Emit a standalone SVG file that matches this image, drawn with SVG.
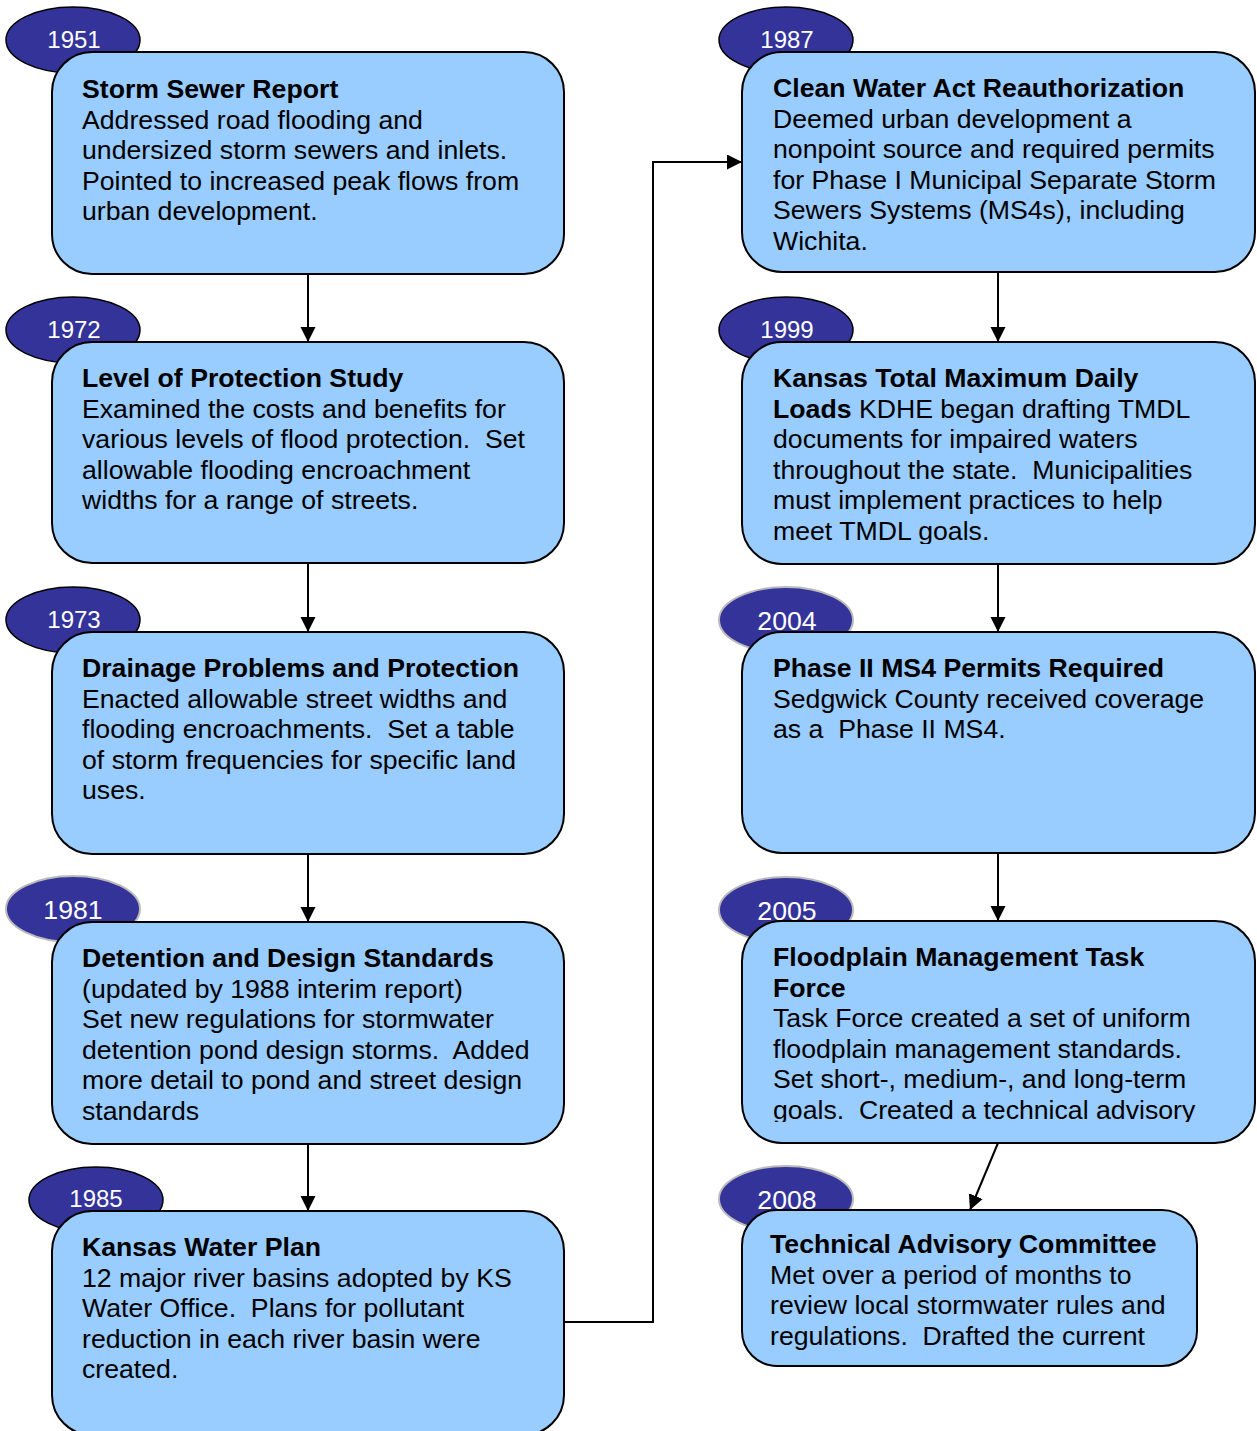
<svg xmlns="http://www.w3.org/2000/svg" width="1257" height="1431" viewBox="0 0 1257 1431">
<style>
.box{fill:#99CCFF;stroke:#000;stroke-width:2}
.yr{fill:#333399;stroke:#000;stroke-width:1.5}
.yr2{fill:#333399;stroke:#BBBBBB;stroke-width:2}
.yt{font-family:"Liberation Sans",Arial,sans-serif;font-size:24px;fill:#fff;text-anchor:middle}
.yt2{font-family:"Liberation Sans",Arial,sans-serif;font-size:26.67px;fill:#fff;text-anchor:middle}
.t{font-family:"Liberation Sans",Arial,sans-serif;font-size:26.67px;fill:#000;white-space:pre}
.b{font-weight:bold}
.c{fill:none;stroke:#000;stroke-width:2}
</style>
<defs>
<marker id="ah" markerUnits="userSpaceOnUse" markerWidth="16" markerHeight="16" refX="15" refY="7.5" orient="auto">
<path d="M0,0 L15,7.5 L0,15 z" fill="#000"/>
</marker>
<clipPath id="clipR2"><rect x="742" y="342" width="513" height="202"/></clipPath>
<clipPath id="clipR4"><rect x="742" y="921" width="513" height="201"/></clipPath>
<clipPath id="clipR5"><rect x="742" y="1210" width="455" height="140"/></clipPath>
</defs>

<g id="connectors">
<line class="c" x1="308" y1="274" x2="308" y2="342" marker-end="url(#ah)"/>
<line class="c" x1="308" y1="563" x2="308" y2="632" marker-end="url(#ah)"/>
<line class="c" x1="308" y1="854" x2="308" y2="922" marker-end="url(#ah)"/>
<line class="c" x1="308" y1="1144" x2="308" y2="1211" marker-end="url(#ah)"/>
<polyline class="c" points="564,1322 653,1322 653,162 742,162" marker-end="url(#ah)"/>
<line class="c" x1="998" y1="272" x2="998" y2="342" marker-end="url(#ah)"/>
<line class="c" x1="998" y1="564" x2="998" y2="632" marker-end="url(#ah)"/>
<line class="c" x1="998" y1="853" x2="998" y2="921" marker-end="url(#ah)"/>
<line class="c" x1="998" y1="1143" x2="970" y2="1210" marker-end="url(#ah)"/>
</g>

<g id="n1951">
<ellipse class="yr" cx="73" cy="40" rx="67" ry="33"/>
<text class="yt" x="74" y="48">1951</text>
<rect class="box" x="52" y="52" width="512" height="222" rx="40" ry="40"/>
<text class="t"><tspan class="b" x="82" y="98">Storm Sewer Report</tspan><tspan x="82" y="128.6">Addressed road flooding and</tspan><tspan x="82" y="159.2">undersized storm sewers and inlets.</tspan><tspan x="82" y="189.8">Pointed to increased peak flows from</tspan><tspan x="82" y="220.4">urban development.</tspan></text>
</g>

<g id="n1972">
<ellipse class="yr" cx="73" cy="330" rx="67" ry="33"/>
<text class="yt" x="74" y="338">1972</text>
<rect class="box" x="52" y="342" width="512" height="221" rx="40" ry="40"/>
<text class="t"><tspan class="b" x="82" y="387">Level of Protection Study</tspan><tspan x="82" y="417.6">Examined the costs and benefits for</tspan><tspan x="82" y="448.2">various levels of flood protection.  Set</tspan><tspan x="82" y="478.8">allowable flooding encroachment</tspan><tspan x="82" y="509.4">widths for a range of streets.</tspan></text>
</g>

<g id="n1973">
<ellipse class="yr" cx="73" cy="620" rx="67" ry="33"/>
<text class="yt" x="74" y="628">1973</text>
<rect class="box" x="52" y="632" width="512" height="222" rx="40" ry="40"/>
<text class="t"><tspan class="b" x="82" y="677">Drainage Problems and Protection</tspan><tspan x="82" y="707.6">Enacted allowable street widths and</tspan><tspan x="82" y="738.2">flooding encroachments.  Set a table</tspan><tspan x="82" y="768.8">of storm frequencies for specific land</tspan><tspan x="82" y="799.4">uses.</tspan></text>
</g>

<g id="n1981">
<ellipse class="yr2" cx="73" cy="909" rx="67" ry="33"/>
<text class="yt2" x="73" y="919">1981</text>
<rect class="box" x="52" y="922" width="512" height="222" rx="40" ry="40"/>
<text class="t"><tspan class="b" x="82" y="967">Detention and Design Standards</tspan><tspan x="82" y="997.6">(updated by 1988 interim report)</tspan><tspan x="82" y="1028.2">Set new regulations for stormwater</tspan><tspan x="82" y="1058.8">detention pond design storms.  Added</tspan><tspan x="82" y="1089.4">more detail to pond and street design</tspan><tspan x="82" y="1120">standards</tspan></text>
</g>

<g id="n1985">
<ellipse class="yr" cx="96" cy="1200" rx="67" ry="33"/>
<text class="yt" x="96" y="1207">1985</text>
<rect class="box" x="52" y="1211" width="512" height="224" rx="40" ry="40"/>
<text class="t"><tspan class="b" x="82" y="1256">Kansas Water Plan</tspan><tspan x="82" y="1286.6">12 major river basins adopted by KS</tspan><tspan x="82" y="1317.2">Water Office.  Plans for pollutant</tspan><tspan x="82" y="1347.8">reduction in each river basin were</tspan><tspan x="82" y="1378.4">created.</tspan></text>
</g>

<g id="n1987">
<ellipse class="yr" cx="786" cy="40" rx="67" ry="33"/>
<text class="yt" x="787" y="48">1987</text>
<rect class="box" x="742" y="52" width="513" height="220" rx="40" ry="40"/>
<text class="t"><tspan class="b" x="773" y="97">Clean Water Act Reauthorization</tspan><tspan x="773" y="127.6">Deemed urban development a</tspan><tspan x="773" y="158.2">nonpoint source and required permits</tspan><tspan x="773" y="188.8">for Phase I Municipal Separate Storm</tspan><tspan x="773" y="219.4">Sewers Systems (MS4s), including</tspan><tspan x="773" y="250">Wichita.</tspan></text>
</g>

<g id="n1999">
<ellipse class="yr" cx="786" cy="330" rx="67" ry="33"/>
<text class="yt" x="787" y="338">1999</text>
<rect class="box" x="742" y="342" width="513" height="222" rx="40" ry="40"/>
<text class="t" clip-path="url(#clipR2)"><tspan class="b" x="773" y="387">Kansas Total Maximum Daily</tspan><tspan class="b" x="773" y="417.6">Loads</tspan><tspan> KDHE began drafting TMDL</tspan><tspan x="773" y="448.2">documents for impaired waters</tspan><tspan x="773" y="478.8">throughout the state.  Municipalities</tspan><tspan x="773" y="509.4">must implement practices to help</tspan><tspan x="773" y="540">meet TMDL goals.</tspan></text>
</g>

<g id="n2004">
<ellipse class="yr2" cx="786" cy="620" rx="67" ry="33"/>
<text class="yt2" x="787" y="629.5">2004</text>
<rect class="box" x="742" y="632" width="513" height="221" rx="40" ry="40"/>
<text class="t"><tspan class="b" x="773" y="677">Phase II MS4 Permits Required</tspan><tspan x="773" y="707.6">Sedgwick County received coverage</tspan><tspan x="773" y="738.2">as a  Phase II MS4.</tspan></text>
</g>

<g id="n2005">
<ellipse class="yr2" cx="786" cy="910" rx="67" ry="33"/>
<text class="yt2" x="787" y="919.5">2005</text>
<rect class="box" x="742" y="921" width="513" height="222" rx="40" ry="40"/>
<text class="t" clip-path="url(#clipR4)"><tspan class="b" x="773" y="966">Floodplain Management Task</tspan><tspan class="b" x="773" y="996.6">Force</tspan><tspan x="773" y="1027.2">Task Force created a set of uniform</tspan><tspan x="773" y="1057.8">floodplain management standards.</tspan><tspan x="773" y="1088.4">Set short-, medium-, and long-term</tspan><tspan x="773" y="1119">goals.  Created a technical advisory</tspan></text>
</g>

<g id="n2008">
<ellipse class="yr2" cx="786" cy="1199" rx="67" ry="33"/>
<text class="yt2" x="787" y="1208.5">2008</text>
<rect class="box" x="742" y="1210" width="455" height="156" rx="35" ry="35"/>
<text class="t" clip-path="url(#clipR5)"><tspan class="b" x="770" y="1253">Technical Advisory Committee</tspan><tspan x="770" y="1283.6">Met over a period of months to</tspan><tspan x="770" y="1314.2">review local stormwater rules and</tspan><tspan x="770" y="1344.8">regulations.  Drafted the current</tspan></text>
</g>
</svg>
